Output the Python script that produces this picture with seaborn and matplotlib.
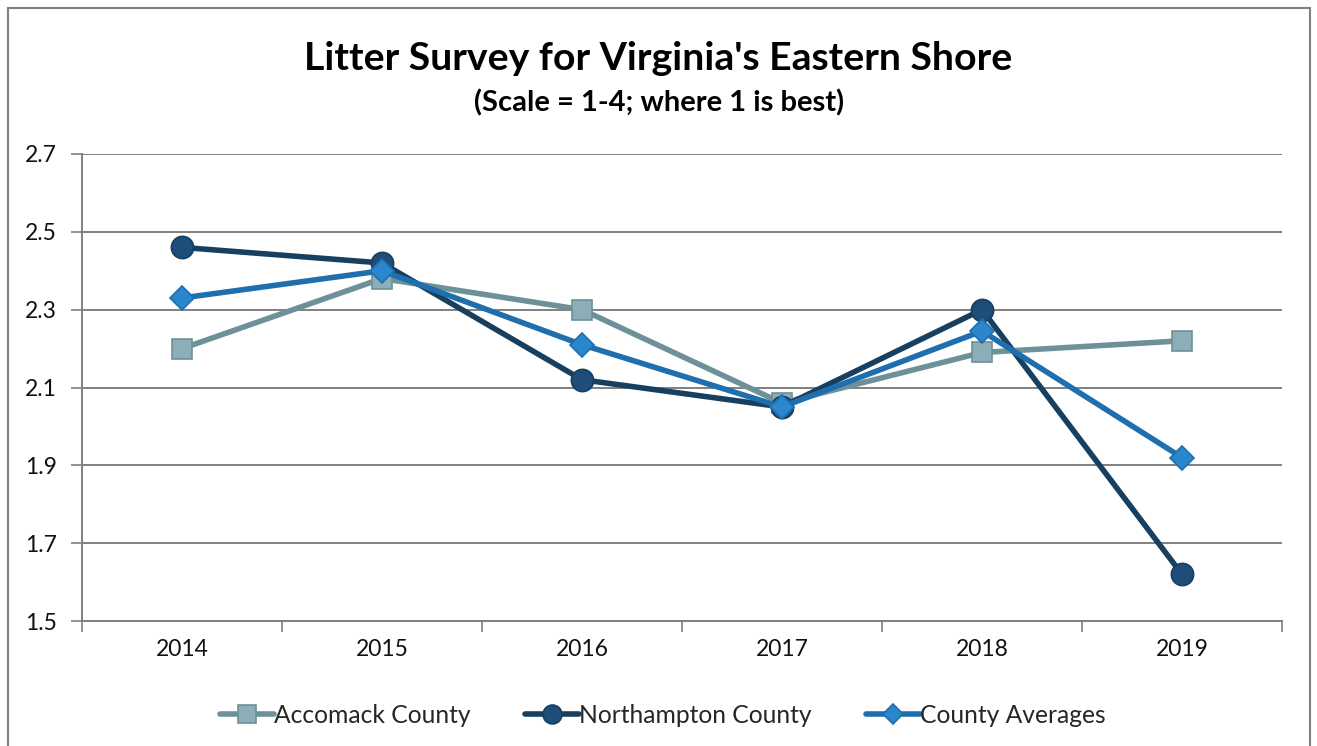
import matplotlib
matplotlib.use("Agg")
import matplotlib.pyplot as plt
from matplotlib.patches import Rectangle
from matplotlib.ticker import FixedLocator
import seaborn as sns
import pandas as pd
import numpy as np

years = ["2014", "2015", "2016", "2017", "2018", "2019"]
accomack = [2.20, 2.38, 2.30, 2.06, 2.19, 2.22]
northampton = [2.46, 2.42, 2.12, 2.05, 2.30, 1.62]
averages = [2.33, 2.40, 2.21, 2.05, 2.245, 1.92]
series_names = ["Accomack County", "Northampton County", "County Averages"]
y_ticks = [1.5, 1.7, 1.9, 2.1, 2.3, 2.5, 2.7]

sns.set_theme(style="white")
plt.rcParams['font.family'] = ['Lato', 'DejaVu Sans']

rows = []
for name, vals in zip(series_names, [accomack, northampton, averages]):
    for i, (yr, v) in enumerate(zip(years, vals)):
        rows.append({"pos": i, "year": yr, "value": v, "series": name})
df = pd.DataFrame(rows)

fig = plt.figure(figsize=(13.17, 7.46), dpi=100)
ax = fig.add_axes([82/1317, 1-621/746, (1282-82)/1317, (621-154)/746])

line_colors = {"Accomack County": "#6D9198", "Northampton County": "#163F60", "County Averages": "#1F6EAE"}
face_colors = {"Accomack County": "#8CAEB8", "Northampton County": "#1D4D78", "County Averages": "#2B87CD"}
markers = {"Accomack County": "s", "Northampton County": "o", "County Averages": "D"}
msizes = {"Accomack County": 15, "Northampton County": 16, "County Averages": 12}

for name in series_names:
    sub = df[df.series == name]
    sns.lineplot(data=sub, x="pos", y="value", ax=ax, color=line_colors[name],
                 linewidth=4, marker=markers[name], markersize=msizes[name],
                 markerfacecolor=face_colors[name], markeredgecolor=line_colors[name],
                 markeredgewidth=1.2, label=name, zorder=3)

ax.set_xlim(-0.5, len(years) - 0.5)
ax.set_ylim(1.5, 2.7)
ax.set_yticks(y_ticks)
ax.set_yticklabels([f"{t:.1f}" for t in y_ticks], fontsize=16.5, color="#111111")
ax.set_xticks(range(len(years)))
ax.set_xticklabels(years, fontsize=16.5, color="#111111")
ax.xaxis.set_minor_locator(FixedLocator(np.arange(-0.5, len(years), 1.0)))
ax.tick_params(axis="x", which="major", length=0, pad=13)
ax.tick_params(axis="x", which="minor", length=8, width=1.2, color="#808080", direction="out", bottom=True)
ax.tick_params(axis="y", which="major", length=8, width=1.2, color="#808080", direction="out", left=True, pad=10)
ax.set_xlabel("")
ax.set_ylabel("")
ax.grid(axis="y", color="#808080", linewidth=1.4)
ax.grid(axis="x", visible=False)
for s in ["top", "right"]:
    ax.spines[s].set_visible(False)
for s in ["left", "bottom"]:
    ax.spines[s].set_color("#808080")
    ax.spines[s].set_linewidth(1.4)

leg = ax.legend(loc="upper center", bbox_to_anchor=(0.484, -0.13), ncol=3, frameon=False,
                fontsize=17.7, handlelength=2.2, handletextpad=0.0, columnspacing=2.2,
                markerscale=0.85)

fig.text(658/1317, 1-58/746, "Litter Survey for Virginia's Eastern Shore", ha="center", va="center",
         fontsize=28.3, fontweight="bold", color="#000000")
fig.text(659/1317, 1-103/746, "(Scale = 1-4; where 1 is best)", ha="center", va="center",
         fontsize=21, fontweight="bold", color="#000000")

fig.patches.append(Rectangle((8/1317, -0.01), (1310-8)/1317, 1-8/746 + 0.01, transform=fig.transFigure,
                             fill=False, edgecolor="#808080", linewidth=1.5))

fig.savefig("out.png", dpi=100)
